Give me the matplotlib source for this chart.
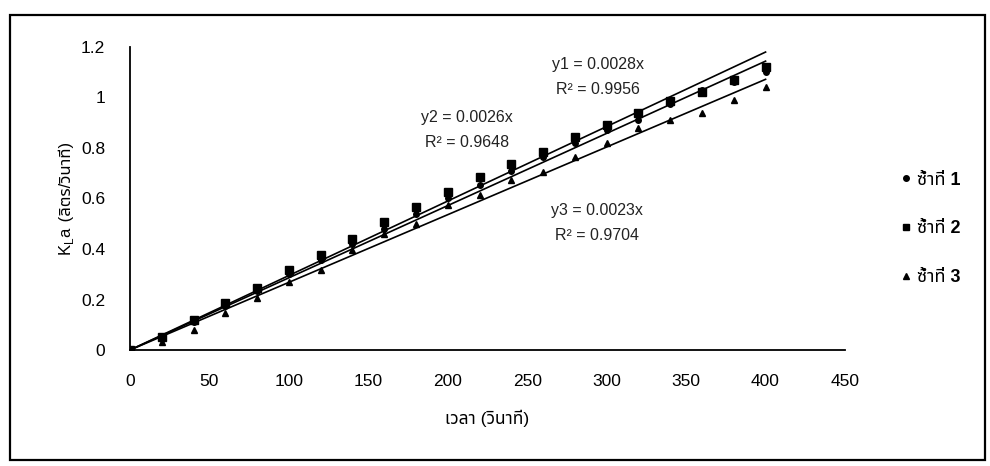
import numpy as np
import matplotlib.pyplot as plt
from matplotlib.patches import Rectangle

# เวลา (วินาที)
time_s = np.array([0, 20, 40, 60, 80, 100, 120, 140, 160, 180, 200,
                   220, 240, 260, 280, 300, 320, 340, 360, 380, 400])

# KLa ของแต่ละซ้ำ
rep1 = np.array([0, 0.045, 0.11, 0.175, 0.235, 0.30, 0.355, 0.42, 0.48, 0.54, 0.60,
                 0.655, 0.71, 0.765, 0.82, 0.87, 0.91, 0.975, 1.03, 1.06, 1.10])
rep2 = np.array([0, 0.05, 0.12, 0.185, 0.245, 0.315, 0.375, 0.44, 0.505, 0.565, 0.625,
                 0.685, 0.735, 0.785, 0.845, 0.89, 0.94, 0.985, 1.02, 1.07, 1.12])
rep3 = np.array([0, 0.03, 0.08, 0.145, 0.205, 0.27, 0.315, 0.395, 0.46, 0.50, 0.575,
                 0.615, 0.675, 0.705, 0.765, 0.82, 0.88, 0.91, 0.94, 0.99, 1.04])

# ความชันของเส้นแนวโน้ม (อ่านจากภาพ) และข้อความสมการ
trend_slopes = [0.00286, 0.00295, 0.00268]
eq_labels = ["y1 = 0.0028x\nR² = 0.9956",
             "y2 = 0.0026x\nR² = 0.9648",
             "y3 = 0.0023x\nR² = 0.9704"]
legend_labels = ["ซ้ำที่ 1", "ซ้ำที่ 2", "ซ้ำที่ 3"]

fonts = ['Liberation Sans', 'Noto Sans Thai', 'Loma', 'Garuda', 'Tlwg Typo',
         'Noto Sans', 'DejaVu Sans']
plt.rcParams['font.family'] = fonts
plt.rcParams['mathtext.fontset'] = 'custom'
plt.rcParams['mathtext.rm'] = 'Liberation Sans'

fig = plt.figure(figsize=(9.9, 4.66), dpi=100)
ax = fig.add_axes([130 / 990, 1 - 350 / 466, 715 / 990, 303 / 466])

# กรอบรอบรูป
fig.patches.append(Rectangle((10 / 990, 1 - 460 / 466), 975 / 990, 445 / 466,
                             transform=fig.transFigure, fill=False,
                             edgecolor='black', linewidth=1.6))

markers = ['o', 's', '^']
sizes = [4, 5.5, 5]
for y, m, s, lab in zip([rep1, rep2, rep3], markers, sizes, legend_labels):
    ax.plot(time_s, y, linestyle='none', marker=m, markersize=s,
            color='black', label=lab)

xfit = np.array([0, time_s[-1]])
for k in trend_slopes:
    ax.plot(xfit, k * xfit, color='black', linewidth=1.2)

eq_pos = [(598, 77), (467, 130), (597, 223)]
for lab, (px, py) in zip(eq_labels, eq_pos):
    fig.text(px / 990, 1 - py / 466, lab, ha='center', va='center',
             fontsize=11.5, linespacing=1.85, color='#222222')

ax.set_xlim(0, 450)
ax.set_ylim(0, 1.2)
ax.set_xticks(np.arange(0, 451, 50))
ax.set_yticks([0, 0.2, 0.4, 0.6, 0.8, 1, 1.2])
ax.set_yticklabels(['0', '0.2', '0.4', '0.6', '0.8', '1', '1.2'])
ax.tick_params(length=0, labelsize=12.5)
ax.tick_params(axis='y', pad=18)
ax.tick_params(axis='x', pad=17)
for side in ['top', 'right']:
    ax.spines[side].set_visible(False)
ax.spines['left'].set_linewidth(1.3)
ax.spines['bottom'].set_linewidth(1.3)

ax.set_xlabel("เวลา (วินาที)", fontsize=12.5, labelpad=15)

# ป้ายแกน y: K_La (ลิตร/วินาที)
fig.text(71 / 990, 1 - 226 / 466, "K$_\\mathregular{L}$a", rotation=90,
         rotation_mode='anchor', ha='right', va='baseline', fontsize=12)
fig.text(71 / 990, 1 - 226 / 466, " (ลิตร/วินาที)", rotation=90,
         rotation_mode='anchor', ha='left', va='baseline', fontsize=12)

leg = ax.legend(loc='center left', bbox_to_anchor=(1.055, 0.40), frameon=False,
                handletextpad=0.3, labelspacing=1.75, handlelength=0.6,
                prop={'family': fonts, 'weight': 'bold', 'size': 13})
for h in leg.legend_handles:
    h.set_markersize(4)

fig.savefig("out.png", dpi=100)
